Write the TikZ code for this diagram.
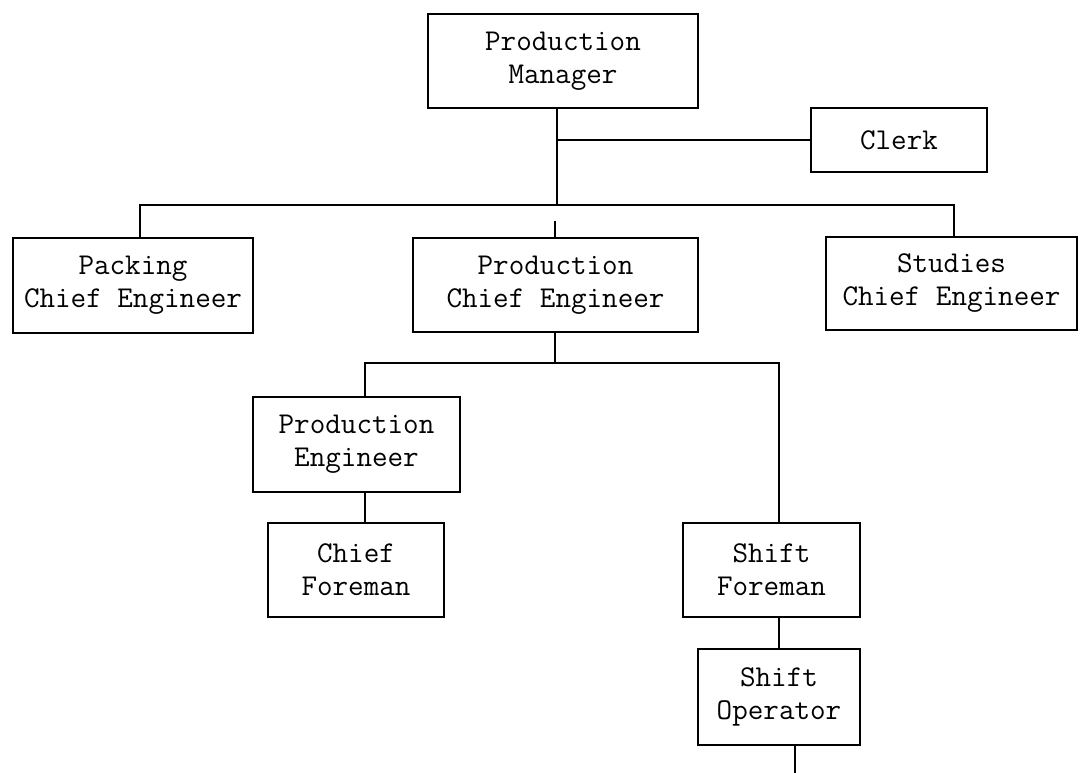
\documentclass[tikz,border=0pt]{standalone}
\begin{document}
\begin{tikzpicture}[x=0.025cm, y=-0.025cm,
    role/.style={draw, line width=1.6pt, align=center, inner sep=0pt,
      font=\ttfamily\fontsize{21.5}{23.5}\selectfont},
    every path/.style={line width=1.6pt}]
    \useasboundingbox (0,0) rectangle (1087,773);

    \node[role, minimum width=6.75cm, minimum height=2.35cm] (pm) at (563,61) {Production\\Manager};
    \node[role, minimum width=4.4cm, minimum height=1.6cm] (clerk) at (899,140) {Clerk};
    \node[role, minimum width=6cm, minimum height=2.375cm] (packing) at (133,285.5) {Packing\\Chief Engineer};
    \node[role, minimum width=7.125cm, minimum height=2.35cm] (pce) at (555.5,285) {Production\\Chief Engineer};
    \node[role, minimum width=6.275cm, minimum height=2.325cm] (studies) at (951.5,283.5) {Studies\\Chief Engineer};
    \node[role, minimum width=5.175cm, minimum height=2.375cm] (pe) at (356.5,444.5) {Production\\Engineer};
    \node[role, minimum width=4.4cm, minimum height=2.35cm] (cf) at (356,570) {Chief\\Foreman};
    \node[role, minimum width=4.425cm, minimum height=2.35cm] (sf) at (771.5,570) {Shift\\Foreman};
    \node[role, minimum width=4.05cm, minimum height=2.4cm] (so) at (779,697) {Shift\\Operator};

    \coordinate (bar) at (557,205);
    \coordinate (sub) at (555,363);
    \coordinate (tail) at (795,773);

    % manager and clerk
    \draw (pm.south -| bar) -- (bar);
    \draw (clerk.west) -- (clerk.west -| bar);
    % chief engineers
    \draw ([xshift=0.175cm]packing.north) |- (bar) -| ([xshift=0.0625cm]studies.north);
    \draw (pce.north -| sub) -- ++(0,-16);
    % production line
    \draw (pce.south -| sub) -- (sub);
    \draw ([xshift=0.2125cm]pe.north) |- (sub) -| (so.north |- sf.north);
    \draw ([xshift=0.2125cm]pe.south) -- ([xshift=0.2125cm]pe.south |- cf.north);
    \draw (sf.south -| so) -- (so.north);
    \draw (so.south -| tail) -- (tail);
\end{tikzpicture}
\end{document}
